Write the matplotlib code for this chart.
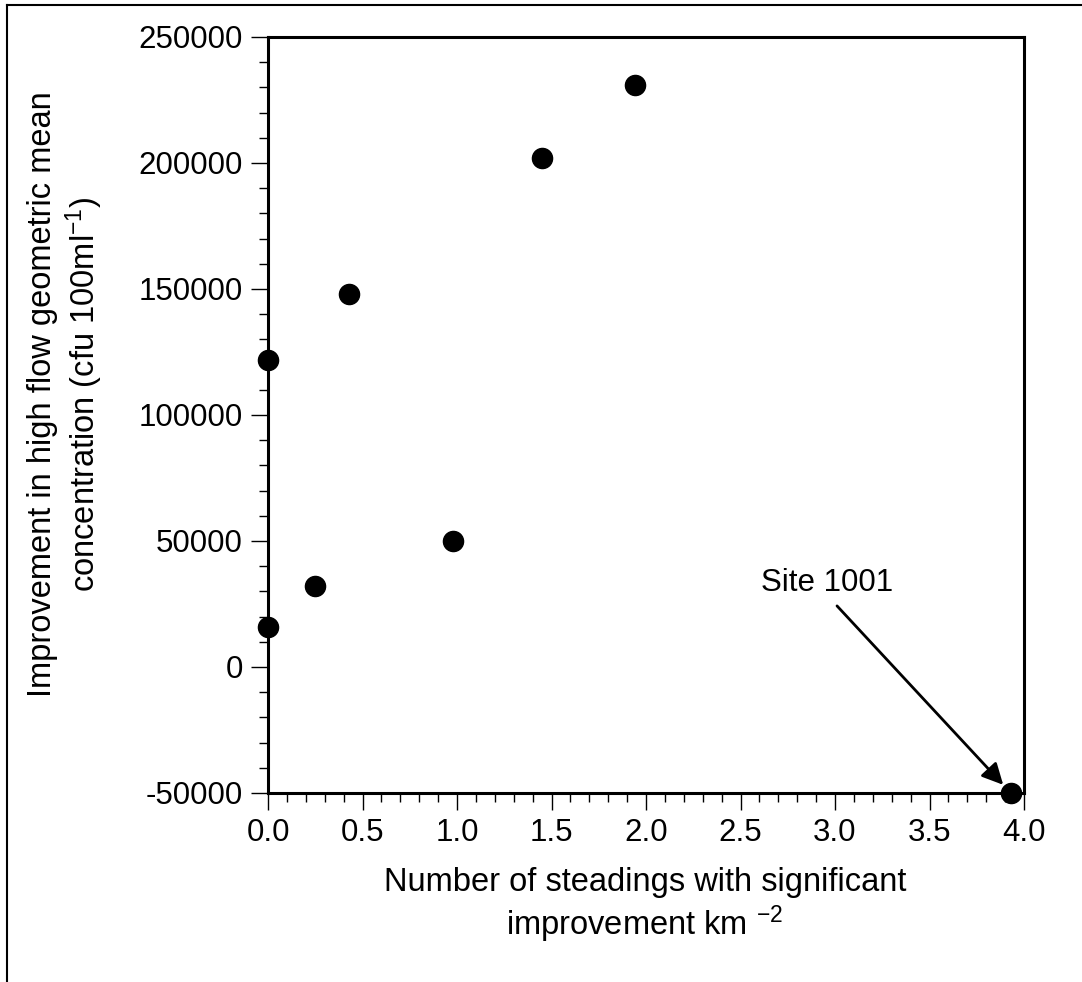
import matplotlib
matplotlib.use('Agg')
import matplotlib.pyplot as plt
from matplotlib.lines import Line2D
from matplotlib.ticker import MultipleLocator

plt.rcParams['font.family'] = ['Liberation Sans', 'DejaVu Sans']
plt.rcParams['mathtext.fontset'] = 'custom'
plt.rcParams['mathtext.rm'] = 'Liberation Sans'
plt.rcParams['mathtext.it'] = 'Liberation Sans'
plt.rcParams['axes.unicode_minus'] = False

# Steadings density vs improvement in high flow geometric mean
steadings = [0.0, 0.0, 0.25, 0.43, 0.98, 1.45, 1.94, 3.93]
improvement = [16000, 122000, 32000, 148000, 50000, 202000, 231000, -50000]

xticks = [0.0, 0.5, 1.0, 1.5, 2.0, 2.5, 3.0, 3.5, 4.0]
yticks = [-50000, 0, 50000, 100000, 150000, 200000, 250000]

site_label = 'Site 1001'
site_x, site_y = 3.93, -50000

fig = plt.figure(figsize=(10.82, 9.82), dpi=100)
ax = fig.add_axes([0.2477, 0.1925, 0.6987, 0.7699])

ax.plot(steadings, improvement, linestyle='none', marker='o', ms=14.5,
        color='black', clip_on=False, zorder=5)

ax.set_xlim(0, 4)
ax.set_ylim(-50000, 250000)
ax.set_xticks(xticks)
ax.set_xticklabels([f'{t:.1f}' for t in xticks])
ax.set_yticks(yticks)
ax.set_yticklabels([str(t) for t in yticks])
ax.xaxis.set_minor_locator(MultipleLocator(0.1))
ax.yaxis.set_minor_locator(MultipleLocator(10000))

for s in ax.spines.values():
    s.set_linewidth(2.2)
ax.tick_params(which='major', length=12, width=1, direction='out', labelsize=22.5, pad=6)
ax.tick_params(which='minor', length=6.5, width=1, direction='out')
ax.tick_params(top=False, right=False)

ax.annotate(site_label, xy=(site_x, site_y), xytext=(2.958, 33300),
            ha='center', va='center', fontsize=22.5,
            arrowprops=dict(arrowstyle='-|>', mutation_scale=32, lw=2,
                            color='black', relpos=(0.52, 0.0),
                            shrinkA=5, shrinkB=8))

fig.text(66 / 1082, 1 - 394 / 982,
         'Improvement in high flow geometric mean\nconcentration (cfu 100ml$^{-1}$)',
         rotation=90, ha='center', va='center', fontsize=23.5,
         multialignment='center', linespacing=1.15)
fig.text(645 / 1082, 1 - 906 / 982,
         'Number of steadings with significant\nimprovement km $^{-2}$',
         ha='center', va='center', fontsize=23.5,
         multialignment='center', linespacing=1.15)

# outer frame
fig.add_artist(Line2D([7 / 1082, 7 / 1082], [0, 1 - 4.5 / 982], color='black', lw=1.5))
fig.add_artist(Line2D([7 / 1082, 1], [1 - 4.5 / 982, 1 - 4.5 / 982], color='black', lw=1.5))

fig.savefig('out.png', dpi=100)
